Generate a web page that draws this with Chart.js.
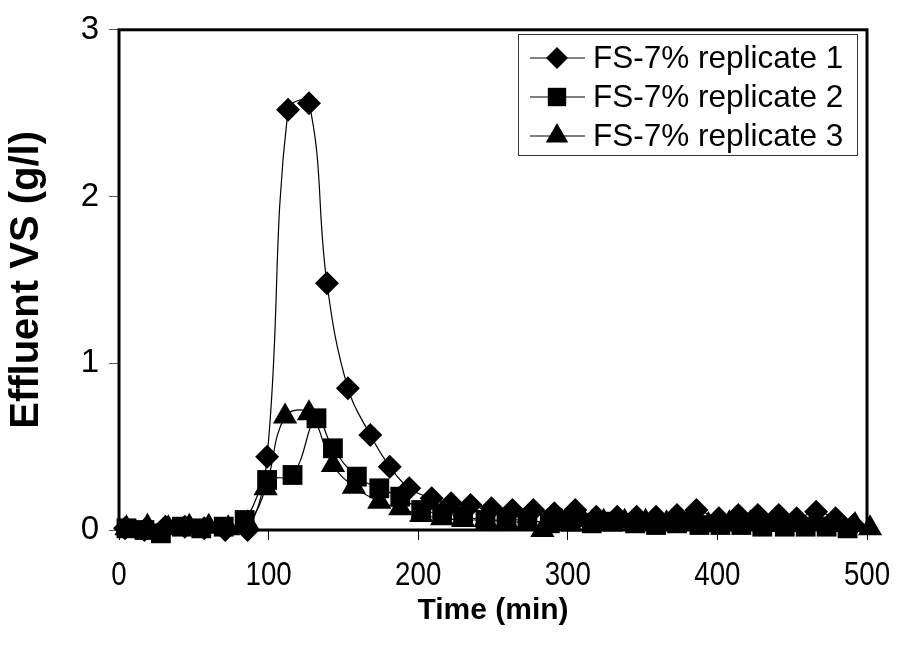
<!DOCTYPE html>
<html>
<head>
<meta charset="utf-8">
<script src="https://cdn.jsdelivr.net/npm/chart.js@4.4.1/dist/chart.umd.min.js"></script>
<style>
    html, body { margin: 0; padding: 0; background: #fff; }
    #wrap { width: 899px; height: 649px; }
</style>
</head>
<body>
<div id="wrap"><canvas id="vs-chart" width="899" height="649"></canvas></div>
<script>
// values (time in min, effluent VS in g/l)
const rep1Time = [4, 17, 31, 44, 57, 71, 86, 99, 113, 127, 139, 153, 168, 181, 194, 209, 222, 235, 249, 263, 277, 291, 305, 319, 333, 346, 359, 373, 386, 401, 414, 427, 441, 453, 466, 479, 491];
const rep1VS = [0.01, 0.00, 0.02, 0.02, 0.01, 0.00, 0.00, 0.44, 2.52, 2.56, 1.48, 0.85, 0.57, 0.38, 0.25, 0.19, 0.16, 0.15, 0.13, 0.12, 0.12, 0.10, 0.12, 0.08, 0.08, 0.08, 0.08, 0.09, 0.12, 0.07, 0.09, 0.09, 0.09, 0.07, 0.11, 0.07, 0.03];

const rep2Time = [5, 17, 28, 42, 55, 70, 84, 99, 116, 132, 143, 159, 174, 188, 202, 216, 230, 245, 259, 273, 288, 302, 316, 330, 345, 359, 373, 388, 402, 416, 430, 445, 459, 473, 487];
const rep2VS = [0.01, 0.00, -0.02, 0.02, 0.01, 0.02, 0.06, 0.30, 0.33, 0.67, 0.49, 0.32, 0.25, 0.20, 0.12, 0.10, 0.08, 0.06, 0.06, 0.06, 0.04, 0.05, 0.04, 0.05, 0.04, 0.03, 0.04, 0.03, 0.03, 0.03, 0.02, 0.02, 0.02, 0.02, 0.01];

const rep3Time = [5, 19, 33, 47, 60, 73, 86, 98, 111, 127, 143, 157, 174, 188, 202, 216, 230, 245, 259, 273, 283, 296, 310, 324, 338, 352, 366, 380, 394, 408, 422, 436, 450, 464, 478, 492, 502];
const rep3VS = [0.01, 0.02, 0.01, 0.02, 0.02, 0.01, 0.04, 0.25, 0.68, 0.70, 0.39, 0.26, 0.17, 0.13, 0.09, 0.07, 0.06, 0.06, 0.05, 0.04, 0.00, 0.05, 0.06, 0.05, 0.05, 0.05, 0.04, 0.04, 0.03, 0.04, 0.04, 0.03, 0.03, 0.04, 0.03, 0.03, 0.01];

const seriesLabels = ['FS-7% replicate 1', 'FS-7% replicate 2', 'FS-7% replicate 3'];
const xTicks = [0, 100, 200, 300, 400, 500];
const yTicks = [0, 1, 2, 3];

const FONT = "'Liberation Sans', Arial, sans-serif";

function toPoints(xs, ys) {
    return xs.map((x, i) => ({ x: x, y: ys[i] }));
}

function drawMarker(ctx, style, x, y, r) {
    ctx.beginPath();
    if (style === 'rectRot') {
        ctx.moveTo(x - r, y);
        ctx.lineTo(x, y - r);
        ctx.lineTo(x + r, y);
        ctx.lineTo(x, y + r);
    } else if (style === 'rect') {
        const s = r * Math.SQRT1_2;
        ctx.rect(x - s, y - s, 2 * s, 2 * s);
    } else {
        const a = Math.PI * 2 / 3;
        ctx.moveTo(x, y - r);
        ctx.lineTo(x + Math.sin(a) * r, y - Math.cos(a) * r);
        ctx.lineTo(x - Math.sin(a) * r, y - Math.cos(a) * r);
    }
    ctx.closePath();
    ctx.fill();
}

// plot box drawn under the markers, like the original
const frame = {
    id: 'frame',
    beforeDatasetsDraw(chart) {
        const { ctx, chartArea: a } = chart;
        ctx.save();
        ctx.strokeStyle = '#000';
        ctx.lineWidth = 3;
        ctx.strokeRect(a.left, a.top, a.right - a.left, a.bottom - a.top);
        ctx.restore();
    }
};

// the x labels in the original are a bit tall and narrow, so squeeze them
const narrowXLabels = {
    id: 'narrowXLabels',
    afterDraw(chart) {
        const { ctx, scales: { x } } = chart;
        ctx.save();
        ctx.fillStyle = '#000';
        ctx.font = '33px ' + FONT;
        ctx.textAlign = 'center';
        ctx.textBaseline = 'middle';
        x.ticks.forEach(t => {
            ctx.save();
            ctx.translate(x.getPixelForValue(t.value), 576);
            ctx.scale(0.84, 1);
            ctx.fillText(String(t.value), 0, 0);
            ctx.restore();
        });
        ctx.restore();
    }
};

// boxed legend in the top right corner
const boxLegend = {
    id: 'boxLegend',
    afterDatasetsDraw(chart) {
        const ctx = chart.ctx;
        const box = { x: 518.5, y: 34.5, w: 339, h: 121 };
        ctx.save();
        ctx.fillStyle = '#fff';
        ctx.fillRect(box.x, box.y, box.w, box.h);
        ctx.strokeStyle = '#333';
        ctx.lineWidth = 1;
        ctx.strokeRect(box.x, box.y, box.w, box.h);
        ctx.font = '31.5px ' + FONT;
        ctx.textBaseline = 'middle';
        chart.data.datasets.forEach((ds, i) => {
            const y = 58 + i * 39;
            ctx.strokeStyle = '#000';
            ctx.lineWidth = 1.2;
            ctx.beginPath();
            ctx.moveTo(530, y);
            ctx.lineTo(585, y);
            ctx.stroke();
            ctx.fillStyle = '#000';
            drawMarker(ctx, ds.pointStyle, 557, y, ds.legendRadius);
            ctx.fillText(ds.label, 593, y + 1);
        });
        ctx.restore();
    }
};

function series(label, xs, ys, style, r, legendR) {
    return {
        label: label,
        data: toPoints(xs, ys),
        borderColor: '#000',
        borderWidth: 1.2,
        backgroundColor: '#000',
        pointStyle: style,
        pointRadius: r,
        pointBorderWidth: 0,
        pointBackgroundColor: '#000',
        tension: 0.4,
        clip: false,
        legendRadius: legendR
    };
}

new Chart(document.getElementById('vs-chart'), {
    type: 'line',
    data: {
        datasets: [
            series(seriesLabels[0], rep1Time, rep1VS, 'rectRot', 12, 11),
            series(seriesLabels[1], rep2Time, rep2VS, 'rect', 14, 13),
            series(seriesLabels[2], rep3Time, rep3VS, 'triangle', 14, 13)
        ]
    },
    options: {
        responsive: false,
        animation: false,
        layout: { padding: { left: 0, right: 32, top: 23, bottom: 0 } },
        plugins: { legend: { display: false }, tooltip: { enabled: false } },
        scales: {
            x: {
                type: 'linear',
                min: 0,
                max: 500,
                afterBuildTicks: s => { s.ticks = xTicks.map(v => ({ value: v })); },
                afterFit: s => { s.height = 119; },
                border: { display: false },
                grid: { drawOnChartArea: false, drawTicks: true, tickLength: 10, color: '#000', lineWidth: 1 },
                ticks: { display: false },
                title: { display: true, text: 'Time (min)', color: '#000', padding: { top: 0, bottom: 20 }, font: { family: FONT, size: 30, weight: 'bold' } }
            },
            y: {
                min: 0,
                max: 3,
                afterBuildTicks: s => { s.ticks = yTicks.map(v => ({ value: v })); },
                afterFit: s => { s.width = 119; },
                border: { display: false },
                grid: { drawOnChartArea: false, drawTicks: true, tickLength: 10, color: '#555', lineWidth: 1 },
                ticks: { color: '#000', padding: 10, font: { family: FONT, size: 33 } },
                title: { display: true, text: 'Effluent VS (g/l)', color: '#000', padding: { top: 3, bottom: 0 }, font: { family: FONT, size: 40, weight: 'bold' } }
            }
        }
    },
    plugins: [frame, narrowXLabels, boxLegend]
});
</script>
</body>
</html>
